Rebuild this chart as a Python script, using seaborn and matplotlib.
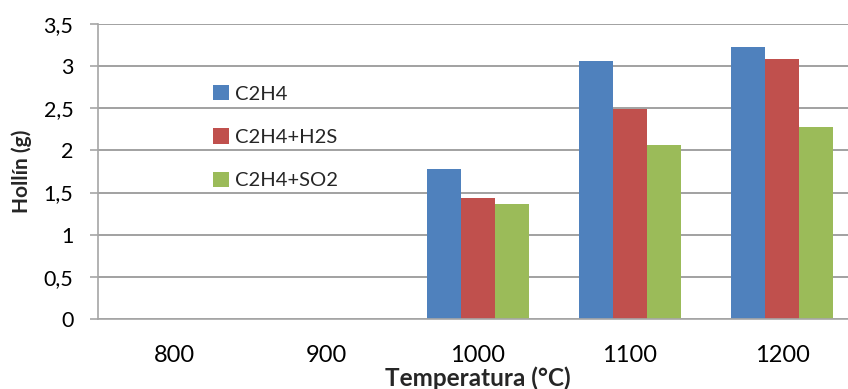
import matplotlib
matplotlib.use("Agg")
import matplotlib.pyplot as plt
import seaborn as sns
import pandas as pd

categories = ["800", "900", "1000", "1100", "1200"]
series_names = ["C2H4", "C2H4+H2S", "C2H4+SO2"]
c2h4 = [0, 0, 1.78, 3.06, 3.23]
c2h4_h2s = [0, 0, 1.43, 2.49, 3.09]
c2h4_so2 = [0, 0, 1.37, 2.06, 2.28]
y_ticks = [0, 0.5, 1, 1.5, 2, 2.5, 3, 3.5]
y_tick_labels = ["0", "0,5", "1", "1,5", "2", "2,5", "3", "3,5"]
colors = ["#4F81BD", "#C0504D", "#9BBB59"]

rows = []
for name, vals in zip(series_names, [c2h4, c2h4_h2s, c2h4_so2]):
    for c, v in zip(categories, vals):
        rows.append({"Temperatura": c, "Hollin": v, "Serie": name})
df = pd.DataFrame(rows)

sns.set_style("white")
plt.rcParams["font.family"] = ["Lato", "DejaVu Sans"]

fig = plt.figure(figsize=(8.48, 3.89), dpi=100)
ax = fig.add_axes([98 / 848, 70 / 389, 760 / 848, 295 / 389])

sns.barplot(data=df, x="Temperatura", y="Hollin", hue="Serie", order=categories,
            hue_order=series_names, palette=colors, width=0.671, ax=ax,
            linewidth=0, saturation=1, errorbar=None)

ax.set_xlim(-0.5, 4.5)
ax.set_ylim(0, 3.5)
ax.set_yticks(y_ticks)
ax.set_yticklabels(y_tick_labels)
ax.yaxis.grid(True, color="#878787", linewidth=1.1)
ax.set_axisbelow(True)
for s in ["top", "right"]:
    ax.spines[s].set_visible(False)
ax.spines["left"].set_color("#A6A6A6")
ax.spines["left"].set_linewidth(1.2)
ax.spines["bottom"].set_color("#A6A6A6")
ax.spines["bottom"].set_linewidth(1.2)
ax.tick_params(axis="y", length=5.8, width=1.2, color="#A6A6A6", pad=12,
               labelsize=15.5, labelcolor="black", left=True)
ax.tick_params(axis="x", length=0, pad=19, labelsize=17, labelcolor="black")

ax.set_xlabel("Temperatura (°C)", fontsize=17.5, fontweight="bold", labelpad=0)
ax.set_ylabel("Hollín (g)", fontsize=15, fontweight="bold", labelpad=8)

handles, labels = ax.get_legend_handles_labels()
ax.legend(handles, labels, loc="upper left", bbox_to_anchor=(213 / 848, 1 - 85 / 389),
          bbox_transform=fig.transFigure, frameon=False, fontsize=14.5,
          handlelength=0.8, handleheight=0.8, handletextpad=0.3,
          labelspacing=1.27, borderpad=0, borderaxespad=0)

fig.savefig("out.png", dpi=100)
